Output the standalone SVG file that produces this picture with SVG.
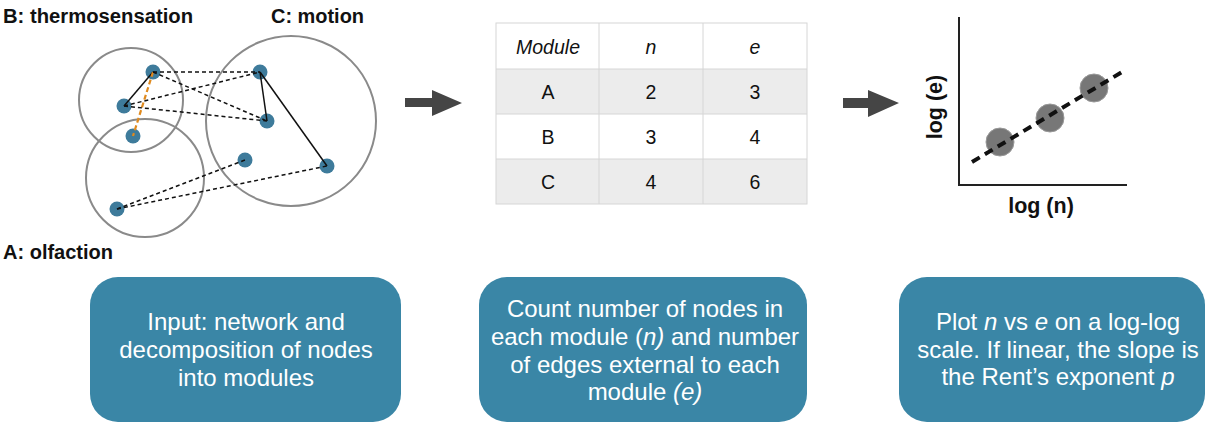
<svg xmlns="http://www.w3.org/2000/svg" width="1208" height="424" viewBox="0 0 1208 424">
<style>
.lbl{font-family:"Liberation Sans",Arial,sans-serif;font-weight:bold;font-size:20px;fill:#111}
.mod{fill:none;stroke:#8a8a8a;stroke-width:2}
.nd{fill:#3e7b9b}
.sol{stroke:#111;stroke-width:1.5;fill:none}
.dsh{stroke:#111;stroke-width:1.5;stroke-dasharray:4 3;fill:none}
.org{stroke:#e08a1e;stroke-width:2.2;stroke-dasharray:5 3;fill:none}
.tc{font-family:"Liberation Sans",Arial,sans-serif;font-size:19.5px;fill:#111;text-anchor:middle}
.grid{stroke:#d6d6d6;stroke-width:1;fill:none}
.arrow{fill:#454545}
.box{fill:#3a86a6}
.bt{font-family:"Liberation Sans",Arial,sans-serif;font-size:24px;fill:#fff;text-anchor:middle}
.ax{font-family:"Liberation Sans",Arial,sans-serif;font-weight:bold;font-size:21.5px;fill:#111;text-anchor:middle}
.dot{fill:#777;stroke:#999;stroke-width:1}
</style>

<g id="labels">
<text class="lbl" x="3" y="23" textLength="190" lengthAdjust="spacingAndGlyphs">B: thermosensation</text>
<text class="lbl" x="271" y="23" textLength="93" lengthAdjust="spacingAndGlyphs">C: motion</text>
<text class="lbl" x="3" y="259" textLength="110" lengthAdjust="spacingAndGlyphs">A: olfaction</text>
</g>

<g id="modules">
<circle id="module-B" class="mod" cx="131" cy="100" r="52"/>
<circle id="module-A" class="mod" cx="145" cy="178" r="59"/>
<circle id="module-C" class="mod" cx="291" cy="121" r="85"/>
</g>

<g id="nodes">
<circle id="B1" class="nd" cx="153" cy="72" r="7.5"/>
<circle id="B2" class="nd" cx="124" cy="106" r="7.5"/>
<circle id="B3" class="nd" cx="133" cy="136" r="7.5"/>
<circle id="C1" class="nd" cx="260" cy="72" r="7.5"/>
<circle id="C2" class="nd" cx="267" cy="121" r="7.5"/>
<circle id="C3" class="nd" cx="245" cy="160" r="7.5"/>
<circle id="C4" class="nd" cx="327" cy="166" r="7.5"/>
<circle id="A1" class="nd" cx="117" cy="209" r="7.5"/>
</g>

<g id="connectors">
<line class="sol" x1="153" y1="72" x2="124" y2="106"/>
<line class="sol" x1="260" y1="72" x2="267" y2="121"/>
<line class="sol" x1="260" y1="72" x2="327" y2="166"/>
<line class="org" x1="153" y1="72" x2="133" y2="136"/>
<line class="dsh" x1="153" y1="72" x2="260" y2="72"/>
<line class="dsh" x1="153" y1="72" x2="267" y2="121"/>
<line class="dsh" x1="124" y1="106" x2="260" y2="72"/>
<line class="dsh" x1="124" y1="106" x2="267" y2="121"/>
<line class="dsh" x1="117" y1="209" x2="245" y2="160"/>
<line class="dsh" x1="117" y1="209" x2="327" y2="166"/>
<polygon id="arrow1" class="arrow" points="405,98 432,98 432,90 462,103 432,116 432,107 405,107"/>
<polygon id="arrow2" class="arrow" points="843,98 868,98 868,90 899,103 868,117 868,108 843,108"/>
</g>

<g id="table">
<rect x="496" y="69" width="311" height="45" fill="#ececec"/>
<rect x="496" y="159" width="311" height="45" fill="#ececec"/>
<rect class="grid" x="496" y="23" width="311" height="181"/>
<line class="grid" x1="599" y1="23" x2="599" y2="204"/>
<line class="grid" x1="703" y1="23" x2="703" y2="204"/>
<line class="grid" x1="496" y1="69" x2="807" y2="69"/>
<line class="grid" x1="496" y1="114" x2="807" y2="114"/>
<line class="grid" x1="496" y1="159" x2="807" y2="159"/>
<text class="tc" x="548" y="54" font-style="italic">Module</text>
<text class="tc" x="651" y="54" font-style="italic">n</text>
<text class="tc" x="755" y="54" font-style="italic">e</text>
<text class="tc" x="548" y="99">A</text>
<text class="tc" x="651" y="99">2</text>
<text class="tc" x="755" y="99">3</text>
<text class="tc" x="548" y="144">B</text>
<text class="tc" x="651" y="144">3</text>
<text class="tc" x="755" y="144">4</text>
<text class="tc" x="548" y="189">C</text>
<text class="tc" x="651" y="189">4</text>
<text class="tc" x="755" y="189">6</text>
</g>

<g id="plot">
<polyline points="959,17 959,185 1127,185" fill="none" stroke="#222" stroke-width="2"/>
<circle class="dot" cx="1000" cy="142" r="14"/>
<circle class="dot" cx="1050" cy="118" r="14"/>
<circle class="dot" cx="1094" cy="88" r="14"/>
<line x1="972" y1="162" x2="1122" y2="72" stroke="#111" stroke-width="4" stroke-dasharray="9 6"/>
<text class="ax" transform="translate(942,107) rotate(-90)">log (e)</text>
<text class="ax" x="1041" y="213">log (n)</text>
</g>

<g id="box1">
<rect class="box" x="90" y="277" width="311" height="145" rx="28"/>
<text class="bt" x="246" y="330">Input: network and</text>
<text class="bt" x="246" y="358">decomposition of nodes</text>
<text class="bt" x="246" y="386">into modules</text>
</g>

<g id="box2">
<rect class="box" x="479" y="277" width="328" height="145" rx="28"/>
<text class="bt" x="645" y="317">Count number of nodes in</text>
<text class="bt" x="645" y="345">each module (<tspan font-style="italic">n)</tspan> and number</text>
<text class="bt" x="645" y="373">of edges external to each</text>
<text class="bt" x="645" y="400">module <tspan font-style="italic">(e)</tspan></text>
</g>

<g id="box3">
<rect class="box" x="899" y="277" width="306" height="145" rx="28"/>
<text class="bt" x="1058" y="330">Plot <tspan font-style="italic">n</tspan> vs <tspan font-style="italic">e</tspan> on a log-log</text>
<text class="bt" x="1058" y="358">scale. If linear, the slope is</text>
<text class="bt" x="1058" y="385">the Rent’s exponent <tspan font-style="italic">p</tspan></text>
</g>
</svg>
